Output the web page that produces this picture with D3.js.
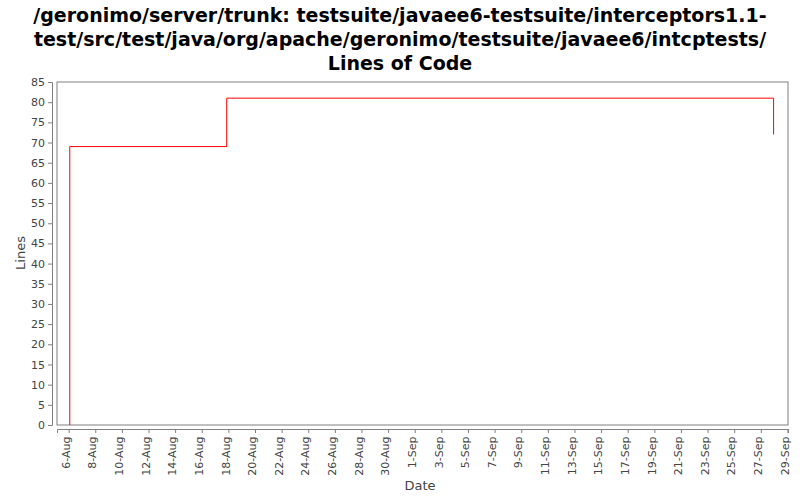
<!DOCTYPE html><html><head><script src="https://cdn.jsdelivr.net/npm/d3@7"></script>
<style>body{margin:0;background:#fff}text{font-family:"DejaVu Sans",sans-serif}</style></head><body><svg id="c" width="800" height="500"></svg>
<script>
const titleLines=["/geronimo/server/trunk: testsuite/javaee6-testsuite/interceptors1.1-","test/src/test/java/org/apache/geronimo/testsuite/javaee6/intcptests/","Lines of Code"];
const dates=["2010-08-06T02:00","2010-08-06T02:00","2010-08-17T21:00","2010-09-27T23:00"];
const values=[0,69,81,72];
const yTicks=d3.range(0,86,5);
const svg=d3.select("#c");
const pl=57,pr=788,pt=82,pb=425;
const x=d3.scaleTime().domain([new Date("2010-08-05T03:00"),new Date("2010-09-29T01:00")]).range([pl,pr]);
const y=d3.scaleLinear().domain([0,85]).range([pb,pt]);
svg.selectAll("text.t").data(titleLines).join("text").attr("x",400).attr("y",(d,i)=>22+i*24)
 .attr("text-anchor","middle").attr("font-weight","bold").attr("font-size",19).text(d=>d);
svg.append("rect").attr("x",pl).attr("y",pt).attr("width",pr-pl).attr("height",pb-pt).attr("fill","none").attr("stroke","#808080");
const ya=svg.append("g").attr("transform","translate(52,0)").call(d3.axisLeft(y).tickValues(yTicks).tickSize(4).tickPadding(3));
const xa=svg.append("g").attr("transform","translate(0,429)").call(d3.axisBottom(x).ticks(d3.timeDay.every(2).filter(d=>true)).tickValues(d3.timeDay.range(new Date("2010-08-06"),new Date("2010-09-30"),2)).tickFormat(d3.timeFormat("%-d-%b")).tickSize(4));
xa.selectAll("text").attr("transform","rotate(-90)").attr("text-anchor","end").attr("dx","-0.5em").attr("dy","-0.3em").attr("y",4).attr("x",-2);
[ya,xa].forEach(a=>{a.selectAll("path,line").attr("stroke","#808080");a.selectAll("text").attr("fill","#444").attr("font-size",11).attr("font-family","DejaVu Sans");});
const line=d3.line().x((d,i)=>x(new Date(dates[i]))).y(d=>y(d)).curve(d3.curveStepAfter);
svg.append("path").attr("d",line(values)).attr("fill","none").attr("stroke","#ff0000").attr("stroke-width",1);
svg.append("text").attr("x",420).attr("y",490).attr("text-anchor","middle").attr("font-size",13).attr("fill","#444").text("Date");
svg.append("text").attr("transform","translate(25,253) rotate(-90)").attr("text-anchor","middle").attr("font-size",13).attr("fill","#444").text("Lines");
</script></body></html>
